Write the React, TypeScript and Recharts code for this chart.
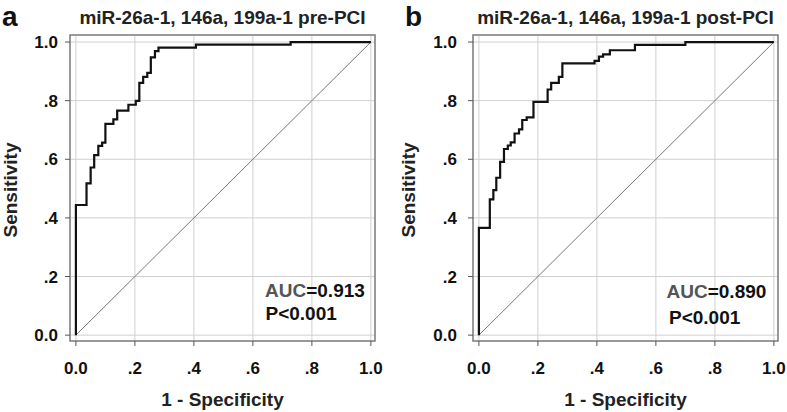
import { LineChart, Line, XAxis, YAxis, CartesianGrid, ReferenceArea } from 'recharts';

// ============================================================================
// Data (each point = top of a vertical step)
// ============================================================================

const fprPre = [0, 0, 0.036, 0.05, 0.062, 0.076, 0.089, 0.1, 0.127, 0.14, 0.178, 0.203, 0.215, 0.228, 0.242, 0.254, 0.268, 0.28, 0.407, 0.728, 1];
const tprPre = [0, 0.444, 0.518, 0.572, 0.614, 0.646, 0.657, 0.721, 0.736, 0.766, 0.786, 0.799, 0.861, 0.881, 0.895, 0.948, 0.969, 0.981, 0.991, 1, 1];

const fprPost = [0, 0, 0.037, 0.049, 0.059, 0.072, 0.085, 0.098, 0.108, 0.121, 0.136, 0.147, 0.162, 0.185, 0.233, 0.245, 0.271, 0.283, 0.392, 0.407, 0.421, 0.444, 0.529, 0.7, 1];
const tprPost = [0, 0.366, 0.463, 0.495, 0.537, 0.591, 0.635, 0.647, 0.658, 0.688, 0.702, 0.734, 0.743, 0.796, 0.838, 0.861, 0.881, 0.927, 0.936, 0.95, 0.958, 0.972, 0.99, 1, 1];

const diagonalX = [0, 1];
const diagonalY = [0, 1];

const axisTicks = [0, 0.2, 0.4, 0.6, 0.8, 1];
const tickLabels = ['0.0', '.2', '.4', '.6', '.8', '1.0'];

const X_DOMAIN: [number, number] = [-0.02, 1.014];
const Y_DOMAIN: [number, number] = [-0.02, 1.024];

const FONT = '"Liberation Sans", Arial, sans-serif';

const toPoints = (xs: number[], ys: number[]) => xs.map((x, i) => ({ x, y: ys[i] }));
const fmtTick = (v: number) => tickLabels[axisTicks.indexOf(v)] ?? String(v);

// ============================================================================
// Panel
// ============================================================================

interface RocPanelProps {
  left: number;
  width: number;
  marginLeft: number;
  marginRight: number;
  yTickMargin: number;
  letter: string;
  letterX: number;
  title: string;
  titleX: number;
  yLabelX: number;
  auc: string;
  aucX: number;
  aucY: number;
  pX: number;
  pY: number;
  fpr: number[];
  tpr: number[];
}

function RocPanel(p: RocPanelProps) {
  const height = 412;
  const plotCenterX = p.marginLeft + 50 + (p.width - p.marginLeft - 50 - p.marginRight) / 2;

  return (
    <div style={{ position: 'absolute', left: p.left, top: 0, width: p.width, height }}>
      <LineChart
        width={p.width}
        height={height}
        margin={{ top: 35, right: p.marginRight, bottom: 0, left: p.marginLeft }}
      >
        <CartesianGrid stroke="#d0d0d0" strokeWidth={1} />
        <XAxis
          type="number"
          dataKey="x"
          domain={X_DOMAIN}
          allowDataOverflow
          ticks={axisTicks}
          tickFormatter={fmtTick}
          height={71}
          tickSize={5}
          tickMargin={16}
          axisLine={false}
          tickLine={{ stroke: '#555' }}
          tick={{ fill: '#111', fontSize: 17, fontWeight: 'bold', fontFamily: FONT }}
        />
        <YAxis
          type="number"
          dataKey="y"
          domain={Y_DOMAIN}
          allowDataOverflow
          ticks={axisTicks}
          tickFormatter={fmtTick}
          width={50}
          tickSize={5}
          tickMargin={p.yTickMargin}
          axisLine={false}
          tickLine={{ stroke: '#555' }}
          tick={{ fill: '#111', fontSize: 17, fontWeight: 'bold', fontFamily: FONT }}
        />
        <ReferenceArea
          x1={X_DOMAIN[0]}
          x2={X_DOMAIN[1]}
          y1={Y_DOMAIN[0]}
          y2={Y_DOMAIN[1]}
          fill="none"
          stroke="#808080"
          strokeWidth={1.5}
        />
        <Line
          data={toPoints(diagonalX, diagonalY)}
          dataKey="y"
          type="linear"
          stroke="#777"
          strokeWidth={1}
          dot={false}
          isAnimationActive={false}
        />
        <Line
          data={toPoints(p.fpr, p.tpr)}
          dataKey="y"
          type="stepAfter"
          stroke="#111"
          strokeWidth={2.2}
          dot={false}
          isAnimationActive={false}
        />
      </LineChart>

      {/* Titles, labels and annotations */}
      <svg
        width={p.width}
        height={height}
        style={{ position: 'absolute', left: 0, top: 0, pointerEvents: 'none', fontFamily: FONT }}
      >
        <text x={p.letterX} y={26} fontSize={28} fontWeight="bold" fill="#111">
          {p.letter}
        </text>
        <text x={p.titleX} y={24} fontSize={19} fontWeight="bold" fill="#222" textAnchor="middle">
          {p.title}
        </text>
        <text
          x={p.yLabelX}
          y={190}
          fontSize={19}
          fontWeight="bold"
          fill="#222"
          textAnchor="middle"
          transform={`rotate(-90 ${p.yLabelX} 190)`}
        >
          Sensitivity
        </text>
        <text x={plotCenterX} y={406} fontSize={19} fontWeight="bold" fill="#222" textAnchor="middle">
          1 - Specificity
        </text>
        <text x={p.aucX} y={p.aucY} fontSize={19} fontWeight="bold" fill="#111">
          <tspan fill="#555">AUC</tspan>
          <tspan>={p.auc}</tspan>
        </text>
        <text x={p.pX} y={p.pY} fontSize={19} fontWeight="bold" fill="#111">
          P&lt;0.001
        </text>
      </svg>
    </div>
  );
}

// ============================================================================
// App
// ============================================================================

export default function App() {
  return (
    <div style={{ position: 'absolute', left: 0, top: 0, width: 787, height: 412, background: '#fff' }}>
      <RocPanel
        left={0}
        width={393}
        marginLeft={20}
        marginRight={18}
        yTickMargin={7}
        letter="a"
        letterX={2}
        title="miR-26a-1, 146a, 199a-1 pre-PCI"
        titleX={222.5}
        yLabelX={17.3}
        auc="0.913"
        aucX={265}
        aucY={297}
        pX={265.5}
        pY={320}
        fpr={fprPre}
        tpr={tprPre}
      />
      <RocPanel
        left={393}
        width={394}
        marginLeft={30}
        marginRight={9}
        yTickMargin={11}
        letter="b"
        letterX={12}
        title="miR-26a-1, 146a, 199a-1 post-PCI"
        titleX={232.5}
        yLabelX={21.5}
        auc="0.890"
        aucX={273.5}
        aucY={298}
        pX={276}
        pY={324}
        fpr={fprPost}
        tpr={tprPost}
      />
    </div>
  );
}
